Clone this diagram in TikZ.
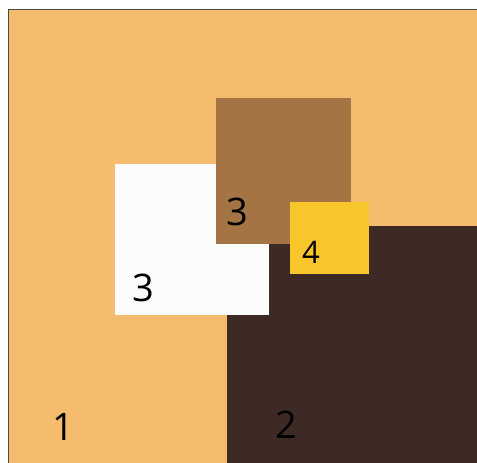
\documentclass[tikz,border=0pt]{standalone}
\usepackage{fontspec}
\setmainfont{Open Sans}
\usepackage{tikz}
\definecolor{sand}{RGB}{246,188,110}
\definecolor{cocoa}{RGB}{61,42,36}
\definecolor{bronze}{RGB}{164,116,68}
\definecolor{amber}{RGB}{248,197,43}
\definecolor{snow}{RGB}{252,252,252}
\definecolor{frameline}{RGB}{74,74,74}

\begin{document}
\begin{tikzpicture}[x=1pt, y=-1pt]
  \tikzstyle{tag} = [inner sep=0pt, text=black, font=\fontsize{38}{38}\selectfont]
  \tikzstyle{smalltag} = [tag, font=\fontsize{31}{31}\selectfont]

  \useasboundingbox (0,0) rectangle (477,463);

  % regions
  \fill[sand] (8.5,9.5) rectangle (477,463);
  \fill[cocoa] (227,226) rectangle (477,463);
  \fill[snow] (115,164) rectangle (268.5,314.5);
  \fill[bronze] (215.5,98) rectangle (351,243.5);
  \fill[amber] (289.5,201.5) rectangle (369,274);
  \draw[frameline, line width=1.5pt] (477,9.5) -- (8.5,9.5) -- (8.5,463);

  % labels
  \node[tag] (one) at (63,427) {1};
  \node[tag] (two) at (286,425) {2};
  \node[tag] (threew) at (143,288) {3};
  \node[tag] (threeb) at (237,212) {3};
  \node[smalltag] (four) at (311,252) {4};
\end{tikzpicture}
\end{document}
